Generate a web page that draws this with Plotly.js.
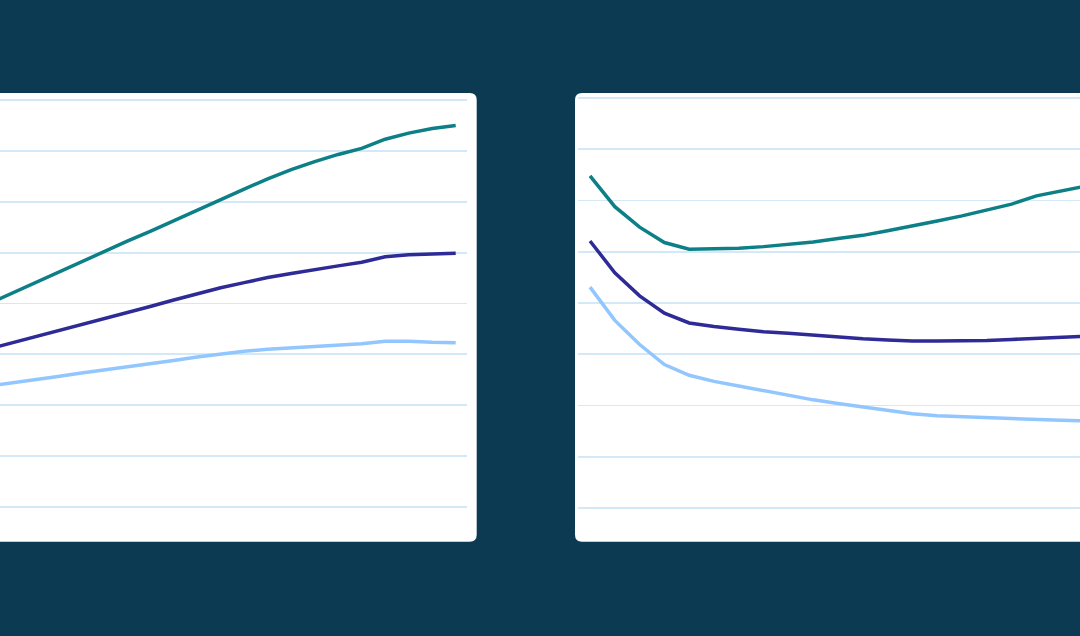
<!DOCTYPE html>
<html>
<head>
<meta charset="utf-8">
<script src="https://cdn.plot.ly/plotly-3.0.1.min.js"></script>
<style>
    html, body { margin: 0; padding: 0; background: #0c3a53; }
    #chart { width: 1080px; height: 636px; }
</style>
</head>
<body>
<div id="chart"></div>
<script>
"use strict";

/**
 * Two panels of three series each
 */

const years = [2030, 2031, 2032, 2033, 2034, 2035, 2036, 2037, 2038, 2039, 2040,
    2041, 2042, 2043, 2044, 2045, 2046, 2047, 2048, 2049, 2050];

// left panel
const leftHigh = [39.7, 41.8, 43.9, 46.0, 48.0, 50.1, 52.2, 54.2, 56.3, 58.4, 60.4,
    62.5, 64.5, 66.3, 67.9, 69.3, 70.5, 72.3, 73.5, 74.4, 75.0];
const leftMid = [30.9, 32.1, 33.3, 34.5, 35.8, 37.0, 38.2, 39.4, 40.7, 41.9, 43.1,
    44.1, 45.1, 45.9, 46.7, 47.4, 48.1, 49.2, 49.6, 49.8, 49.9];
const leftLow = [23.7, 24.3, 25.0, 25.6, 26.3, 26.9, 27.5, 28.2, 28.8, 29.5, 30.1,
    30.6, 31.0, 31.3, 31.6, 31.8, 32.1, 32.6, 32.6, 32.4, 32.3];

// right panel
const rightHigh = [64.8, 58.8, 54.8, 51.8, 50.5, 50.6, 50.7, 51.0, 51.4, 51.9, 52.6,
    53.2, 54.1, 55.0, 56.0, 57.0, 58.1, 59.3, 60.9, 61.9, 62.8];
const rightMid = [52.1, 45.9, 41.4, 38.0, 36.1, 35.4, 34.9, 34.4, 34.1, 33.7, 33.4,
    33.0, 32.8, 32.6, 32.6, 32.6, 32.7, 32.9, 33.1, 33.3, 33.5];
const rightLow = [43.1, 36.6, 31.9, 28.0, 25.9, 24.7, 23.8, 22.9, 22.0, 21.1, 20.4,
    19.7, 19.0, 18.4, 18.0, 17.8, 17.6, 17.4, 17.3, 17.1, 17.0];

const colors = {
    high: "#0d7f86",
    mid: "#2e2a96",
    low: "#92c6ff",
    grid: "#d4e9f8",
    panel: "#ffffff",
    background: "#0c3a53"
};

const W = 1080, H = 636;

function px(x) { return x / W; }
function py(y) { return 1 - y / H; }

/**
 * Rounded rectangle in paper coordinates, corners given in pixels
 */
function roundedPanel(left, top, right, bottom, r) {
    let x0 = px(left), x1 = px(right), y0 = py(bottom), y1 = py(top);
    let rx = r / W, ry = r / H;
    let path = "M" + (x0 + rx) + "," + y1 +
        " L" + (x1 - rx) + "," + y1 +
        " Q" + x1 + "," + y1 + " " + x1 + "," + (y1 - ry) +
        " L" + x1 + "," + (y0 + ry) +
        " Q" + x1 + "," + y0 + " " + (x1 - rx) + "," + y0 +
        " L" + (x0 + rx) + "," + y0 +
        " Q" + x0 + "," + y0 + " " + x0 + "," + (y0 + ry) +
        " L" + x0 + "," + (y1 - ry) +
        " Q" + x0 + "," + y1 + " " + (x0 + rx) + "," + y1 + " Z";
    return {
        type: "path",
        xref: "paper",
        yref: "paper",
        path: path,
        fillcolor: colors.panel,
        line: {width: 0},
        layer: "below"
    };
}

function getLine(y, color, xaxis, yaxis) {
    return {
        x: years,
        y: y,
        type: "scatter",
        mode: "lines",
        xaxis: xaxis,
        yaxis: yaxis,
        hoverinfo: "none",
        line: {color: color, width: 3.5}
    };
}

function xAxis(domain, range, anchor) {
    return {
        domain: domain,
        range: range,
        anchor: anchor,
        showgrid: false,
        zeroline: false,
        showline: false,
        showticklabels: false,
        ticks: ""
    };
}

function yAxis(domain, range, anchor) {
    return {
        domain: domain,
        range: range,
        anchor: anchor,
        tick0: 0,
        dtick: 10,
        showgrid: true,
        gridcolor: colors.grid,
        gridwidth: 1.8,
        zeroline: false,
        showline: false,
        showticklabels: false,
        ticks: ""
    };
}

function drawChart() {
    let data = [
        getLine(leftLow, colors.low, "x", "y"),
        getLine(leftMid, colors.mid, "x", "y"),
        getLine(leftHigh, colors.high, "x", "y"),
        getLine(rightLow, colors.low, "x2", "y2"),
        getLine(rightMid, colors.mid, "x2", "y2"),
        getLine(rightHigh, colors.high, "x2", "y2")
    ];

    let panelDomain = [py(541.7), py(93)];

    let layout = {
        width: W,
        height: H,
        margin: {l: 0, r: 0, t: 0, b: 0, pad: 0},
        paper_bgcolor: colors.background,
        plot_bgcolor: "rgba(0,0,0,0)",
        showlegend: false,
        xaxis: xAxis([0, px(466.7)], [2030.609, 2050.468], "y"),
        yaxis: yAxis(panelDomain, [-6.82, 81.38], "x"),
        xaxis2: xAxis([px(578.3), 1], [2029.528, 2049.758], "y2"),
        yaxis2: yAxis(panelDomain, [-6.58, 80.98], "x2"),
        shapes: [
            roundedPanel(-20, 93, 476.7, 541.7, 7),
            roundedPanel(575, 93, 1100, 541.7, 7)
        ]
    };

    Plotly.newPlot("chart", data, layout, {displayModeBar: false, staticPlot: true});
}

drawChart();
</script>
</body>
</html>
